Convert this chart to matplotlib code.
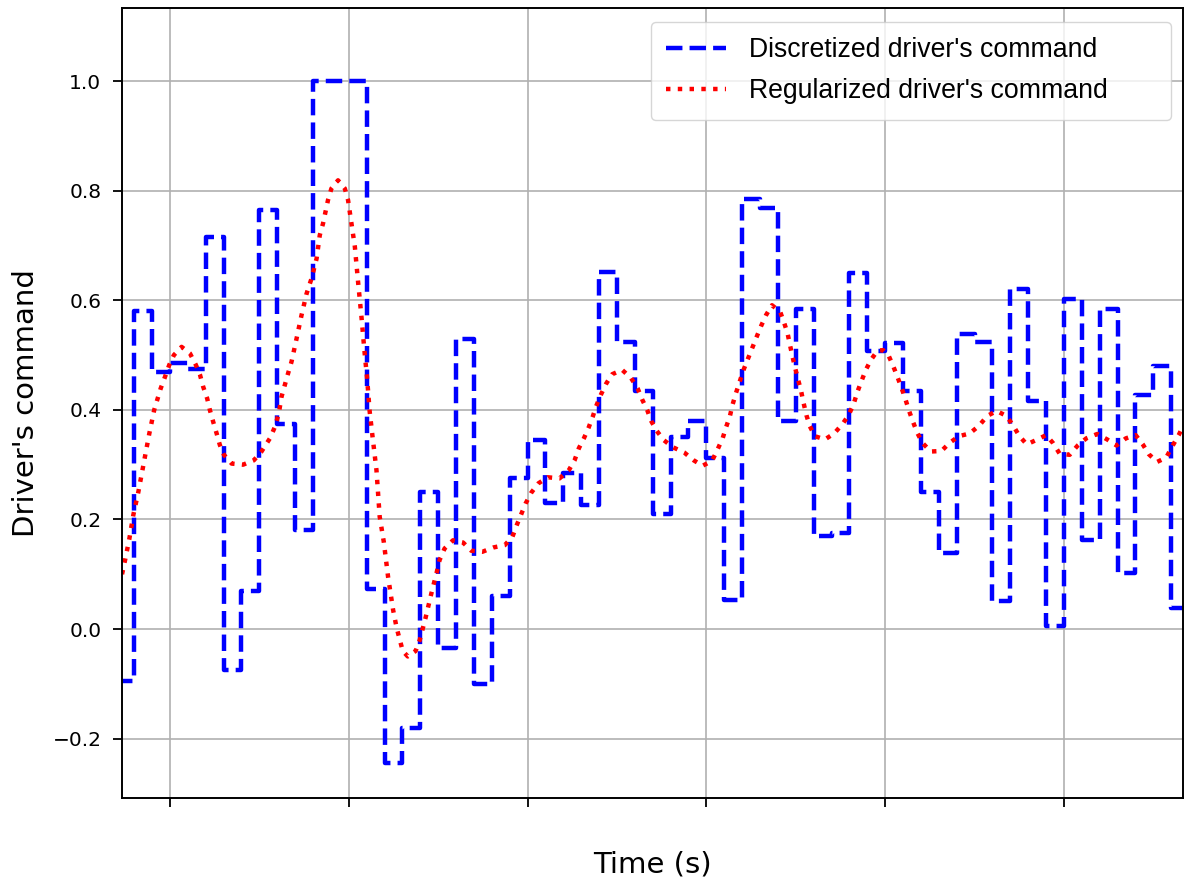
import numpy as np
import matplotlib
matplotlib.use("Agg")
import matplotlib.pyplot as plt

# discretized command: one value per 0.1 s step, first step starts at 0.7 s
step_start = 0.7
step_dt = 0.1
step_vals = [-0.095, 0.58, 0.47, 0.485, 0.475, 0.715, -0.075, 0.07, 0.765, 0.375,
             0.18, 1.0, 1.0, 1.0, 0.073, -0.245, -0.18, 0.25, -0.035, 0.53,
             -0.1, 0.06, 0.276, 0.345, 0.23, 0.285, 0.226, 0.652, 0.524, 0.435,
             0.21, 0.35, 0.379, 0.312, 0.053, 0.784, 0.768, 0.379, 0.584, 0.169,
             0.175, 0.65, 0.508, 0.522, 0.434, 0.25, 0.139, 0.539, 0.524, 0.052,
             0.62, 0.416, 0.005, 0.602, 0.163, 0.584, 0.103, 0.428, 0.48, 0.039]

# regularized command
reg_t = [0.732, 0.749, 0.773, 0.795, 0.823, 0.860, 0.884, 0.912, 0.948, 0.972,
         0.996, 1.022, 1.065, 1.112, 1.145, 1.168, 1.186, 1.208, 1.223, 1.242,
         1.261, 1.279, 1.302, 1.345, 1.409, 1.469, 1.512, 1.559, 1.587, 1.609,
         1.624, 1.642, 1.661, 1.680, 1.708, 1.736, 1.764, 1.792, 1.820, 1.838,
         1.856, 1.884, 1.903, 1.940, 1.978, 1.996, 2.015, 2.034, 2.052, 2.071,
         2.089, 2.102, 2.117, 2.132, 2.155, 2.173, 2.196, 2.220, 2.248, 2.268,
         2.302, 2.330, 2.374, 2.397, 2.430, 2.462, 2.493, 2.508, 2.536, 2.583,
         2.639, 2.685, 2.747, 2.810, 2.872, 2.915, 2.940, 2.965, 2.989, 3.021,
         3.061, 3.113, 3.179, 3.231, 3.263, 3.287, 3.315, 3.342, 3.365, 3.384,
         3.412, 3.440, 3.473, 3.529, 3.579, 3.616, 3.641, 3.669, 3.691, 3.722,
         3.761, 3.812, 3.877, 3.929, 3.979, 4.032, 4.063, 4.091, 4.110, 4.132,
         4.147, 4.166, 4.188, 4.208, 4.231, 4.255, 4.281, 4.306, 4.334, 4.367,
         4.413, 4.436, 4.454, 4.468, 4.482, 4.497, 4.514, 4.529, 4.542, 4.560,
         4.579, 4.607, 4.663, 4.715, 4.761, 4.795, 4.823, 4.845, 4.868, 4.892,
         4.920, 4.957, 4.989, 5.018, 5.045, 5.069, 5.093, 5.112, 5.134, 5.156,
         5.180, 5.208, 5.255, 5.315, 5.361, 5.413, 5.473, 5.525, 5.571, 5.624,
         5.678, 5.717, 5.749, 5.792, 5.845, 5.901, 5.940, 5.976, 6.032, 6.077,
         6.125, 6.186, 6.242, 6.294, 6.346, 6.401, 6.441, 6.475, 6.521, 6.572,
         6.605, 6.642, 6.665]
reg_v = [0.100, 0.126, 0.165, 0.208, 0.250, 0.314, 0.356, 0.400, 0.439, 0.460,
         0.482, 0.500, 0.515, 0.503, 0.482, 0.464, 0.442, 0.421, 0.400, 0.378,
         0.357, 0.336, 0.318, 0.302, 0.300, 0.308, 0.324, 0.348, 0.369, 0.394,
         0.424, 0.445, 0.467, 0.488, 0.530, 0.573, 0.612, 0.640, 0.676, 0.719,
         0.740, 0.783, 0.804, 0.819, 0.804, 0.783, 0.740, 0.698, 0.634, 0.570,
         0.503, 0.460, 0.397, 0.354, 0.290, 0.205, 0.159, 0.095, 0.035, 0.002,
         -0.040, -0.050, -0.040, -0.020, 0.021, 0.065, 0.105, 0.126, 0.147, 0.162,
         0.158, 0.143, 0.141, 0.149, 0.153, 0.168, 0.190, 0.210, 0.229, 0.249,
         0.266, 0.277, 0.275, 0.290, 0.308, 0.330, 0.348, 0.368, 0.388, 0.407,
         0.429, 0.448, 0.465, 0.473, 0.458, 0.439, 0.419, 0.400, 0.380, 0.362,
         0.345, 0.332, 0.322, 0.308, 0.298, 0.307, 0.328, 0.348, 0.368, 0.389,
         0.410, 0.431, 0.453, 0.473, 0.492, 0.512, 0.533, 0.553, 0.573, 0.591,
         0.579, 0.558, 0.540, 0.518, 0.497, 0.476, 0.454, 0.436, 0.415, 0.390,
         0.370, 0.352, 0.346, 0.357, 0.374, 0.390, 0.410, 0.433, 0.453, 0.473,
         0.491, 0.508, 0.509, 0.500, 0.480, 0.460, 0.439, 0.421, 0.398, 0.378,
         0.358, 0.340, 0.324, 0.325, 0.340, 0.352, 0.357, 0.371, 0.389, 0.398,
         0.389, 0.371, 0.353, 0.337, 0.345, 0.354, 0.339, 0.320, 0.318, 0.335,
         0.348, 0.356, 0.346, 0.335, 0.348, 0.354, 0.337, 0.319, 0.305, 0.313,
         0.333, 0.354, 0.370]

grid_ticks = [1, 2, 3, 4, 5, 6]

step_t = step_start + step_dt * np.arange(len(step_vals) + 1)
step_y = step_vals + [step_vals[-1]]

fig = plt.figure(figsize=(11.84, 8.82), dpi=100)
ax = fig.add_axes([0.1030, 0.0952, 0.8961, 0.8957])

ax.plot(step_t, step_y, drawstyle='steps-post', color='blue', linestyle='--',
        linewidth=3.2, label="Discretized driver's command")
ax.plot(reg_t, reg_v, color='red', linestyle=':', linewidth=3.2,
        label="Regularized driver's command")

ax.set_xlim(0.7315, 6.6655)
ax.set_ylim(-0.3084, 1.1334)
ax.set_xticks(grid_ticks)
ax.set_yticks([-0.2, 0.0, 0.2, 0.4, 0.6, 0.8, 1.0])
ax.tick_params(axis='x', labelbottom=False, length=6.8, width=1.3)
ax.tick_params(axis='y', labelsize=14.5, length=6.8, width=1.3, pad=8)
for sp in ax.spines.values():
    sp.set_linewidth(1.4)
ax.grid(True, color='#b0b0b0', linewidth=1.2)

ax.set_xlabel('Time (s)', fontsize=21)
ax.set_ylabel("Driver's command", fontsize=21)
ax.xaxis.set_label_coords(0.5, -0.067)
ax.yaxis.set_label_coords(-0.077, 0.5)

ax.legend(loc='upper left', bbox_to_anchor=(0.4986, 0.5, 0.4901, 0.4823),
          mode='expand', borderaxespad=0, handlelength=2.25, handletextpad=0.86,
          borderpad=0.58, labelspacing=0.56,
          prop={'family': 'Liberation Sans', 'size': 19.2})

fig.savefig('out.png', dpi=100)
